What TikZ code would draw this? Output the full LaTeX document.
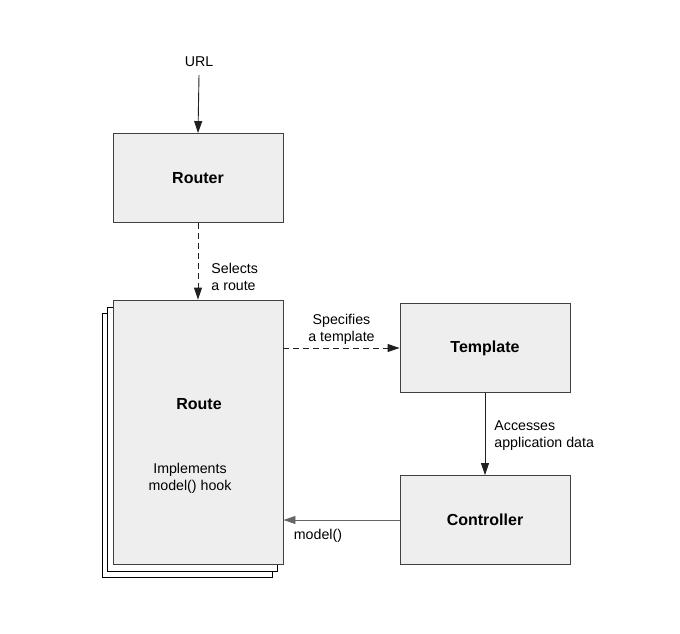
\documentclass[tikz,border=0pt]{standalone}
\usepackage{fontspec}
\setmainfont{Liberation Sans}
\usetikzlibrary{
    arrows.meta,
    calc,
    positioning
}
\definecolor{boxfill}{HTML}{EEEEEE}
\definecolor{boxline}{HTML}{404040}
\definecolor{wireline}{HTML}{202020}

\begin{document}
\begin{tikzpicture}[x=1pt, y=-1pt,
        block/.style={draw=boxline, fill=boxfill, line width=0.9pt, minimum width=170pt, minimum height=89pt, inner sep=0pt, font=\fontsize{16}{19}\selectfont\bfseries},
        sheet/.style={draw=black, fill=white, line width=0.9pt, minimum width=170pt, minimum height=264pt, inner sep=0pt},
        flow/.style={draw=wireline, line width=0.9pt, -{Triangle[length=12pt, width=8pt]}},
        hint/.style={dash pattern=on 6pt off 4pt},
        note/.style={inner sep=0pt, align=left, font=\fontsize{14.2}{17}\selectfont}]
    \useasboundingbox (0, 0) rectangle (680, 633);

    % stacked route pages
    \node[sheet] (route3) at (187, 445) {};
    \node[sheet] (route2) at (192, 439) {};
    \node[sheet, fill=boxfill, draw=boxline] (route) at (198, 432) {};
    \node[font=\fontsize{16}{19}\selectfont\bfseries] (routename) at (199, 404) {Route};
    \node[note, align=center] (hook) at (190, 478) {Implements\\model() hook};

    \node[note] (url) at (199, 62) {URL};
    \node[block] (router) at (198, 178) {Router};
    \node[block] (template) at (485, 348) {Template};
    \node[block] (controller) at (485, 520) {Controller};

    \draw[flow] (url.south) ++(0, 8) -- (router.north);
    \draw[flow, hint] (router.south) -- (route.north)
        node[note, pos=0.7, right, xshift=13pt] {Selects\\a route};
    \draw[flow, hint] (route.east |- template.west) -- (template.west)
        node[note, align=center, midway, above, yshift=3pt] {Specifies\\a template};
    \draw[flow] (template.south) -- (controller.north)
        node[note, midway, right, xshift=9pt, yshift=-2pt] {Accesses\\application data};
    \draw[flow, draw=boxline!80] (controller.west) -- (route.east |- controller.west)
        node[note, at end, anchor=north west, xshift=10pt, yshift=-9pt] {model()};
\end{tikzpicture}
\end{document}
